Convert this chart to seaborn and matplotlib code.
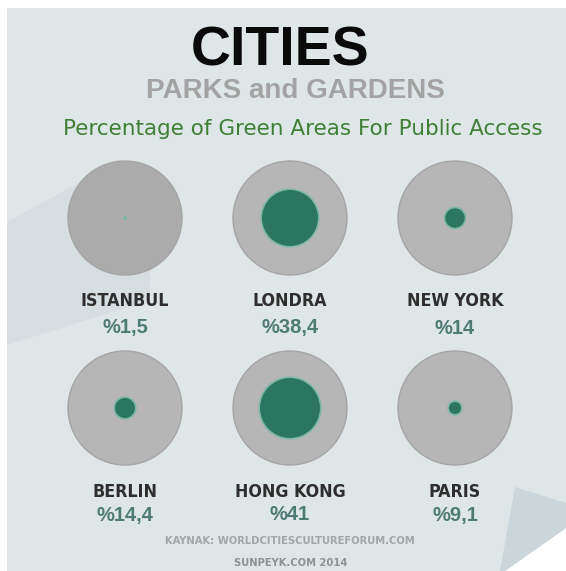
import matplotlib
matplotlib.use("Agg")
import matplotlib.pyplot as plt
import seaborn as sns
import pandas as pd
from matplotlib.patches import Polygon, Rectangle

# ---- data ----
cities = ["ISTANBUL", "LONDRA", "NEW YORK", "BERLIN", "HONG KONG", "PARIS"]
green_pct = [1.5, 38.4, 14, 14.4, 41, 9.1]
pct_labels = ["%1,5", "%38,4", "%14", "%14,4", "%41", "%9,1"]

title = "CITIES"
subtitle1 = "PARKS and GARDENS"
subtitle2 = "Percentage of Green Areas For Public Access"
source = "KAYNAK: WORLDCITIESCULTUREFORUM.COM"
credit = "SUNPEYK.COM 2014"

# ---- layout (pixels) ----
W, H, DPI = 566, 571, 100
X0, DX = 125, 165
Y0, DY = 218, 190
OUTER_R = 57          # px
PX_PER_PCT = 0.75     # inner radius in px per percentage point
PT = 72 / DPI

df = pd.DataFrame({"city": cities, "pct": green_pct, "label": pct_labels})
df["col"] = [i % 3 for i in range(len(df))]
df["row"] = [i // 3 for i in range(len(df))]
df["x"] = X0 + df["col"] * DX
df["y"] = Y0 + df["row"] * DY

sns.set_theme(style="white")
plt.rcParams["font.family"] = ["Liberation Sans", "DejaVu Sans"]

fig = plt.figure(figsize=(W / DPI, H / DPI), dpi=DPI, facecolor="white")
ax = fig.add_axes([0, 0, 1, 1])
ax.set_xlim(0, W)
ax.set_ylim(H, 0)
ax.axis("off")

# background card
ax.add_patch(Rectangle((7, 8), W - 7, H - 8, facecolor="#dfe6e8", edgecolor="none", zorder=0))
# soft diagonal shadow on the left
ax.add_patch(Polygon([(7, 222), (75, 185), (150, 230), (150, 300), (7, 345)],
                     closed=True, facecolor="#d6dee1", edgecolor="none", zorder=0.5))
# page curl bottom right
ax.add_patch(Polygon([(566, 528), (566, 571), (505, 571)], closed=True,
                     facecolor="white", edgecolor="none", zorder=0.6))
ax.add_patch(Polygon([(515, 487), (566, 503), (566, 528), (505, 571), (500, 571)], closed=True,
                     facecolor="#cad6da", edgecolor="none", zorder=0.7))

# outer circles
outer_s = (2 * OUTER_R * PT) ** 2
outer_colors = ["#ababab" if i == 0 else "#b6b6b6" for i in range(len(df))]
ax.scatter(df["x"], df["y"], s=outer_s, c=outer_colors, edgecolors="#a5a5a5",
           linewidths=1.0, zorder=2)

# inner green circles, radius proportional to the percentage
size_map = {v: (2 * PX_PER_PCT * v * PT) ** 2 for v in df["pct"]}
sns.scatterplot(data=df, x="x", y="y", size="pct", sizes=size_map, color="#2b7561",
                edgecolor="#7db8a4", linewidth=1.2, legend=False, ax=ax, zorder=3)
ax.set_xlim(0, W)
ax.set_ylim(H, 0)
ax.axis("off")

# titles
ax.text(280, 52, title, ha="center", va="center", fontsize=40, fontweight="bold",
        color="#0a0a0a", zorder=5)
ax.text(295, 91, subtitle1, ha="center", va="center", fontsize=20, fontweight="bold",
        color="#a3a3a3", zorder=5)
ax.text(303, 129, subtitle2, ha="center", va="center", fontsize=15.5,
        family=["DejaVu Sans"], color="#3f7f37", zorder=5)

# city labels
for _, r in df.iterrows():
    ny = r["y"] + (83 if r["row"] == 0 else 84)
    py = r["y"] + (110 if r["row"] == 0 else 107)
    ax.text(r["x"], ny, r["city"], ha="center", va="center", fontsize=12.8,
            fontweight="bold", family=["DejaVu Sans"], stretch="condensed",
            color="#2e2e2e", zorder=5)
    ax.text(r["x"], py, r["label"], ha="center", va="center", fontsize=14.5,
            fontweight="bold", color="#4f7c72", zorder=5)

# footer
ax.text(290, 541, source, ha="center", va="center", fontsize=8, fontweight="bold",
        family=["DejaVu Sans"], stretch="condensed", color="#a2a6a8", zorder=5)
ax.text(291, 563, credit, ha="center", va="center", fontsize=8, fontweight="bold",
        family=["DejaVu Sans"], stretch="condensed", color="#8e9294", zorder=5)

fig.savefig("out.png", dpi=DPI, facecolor="white")
